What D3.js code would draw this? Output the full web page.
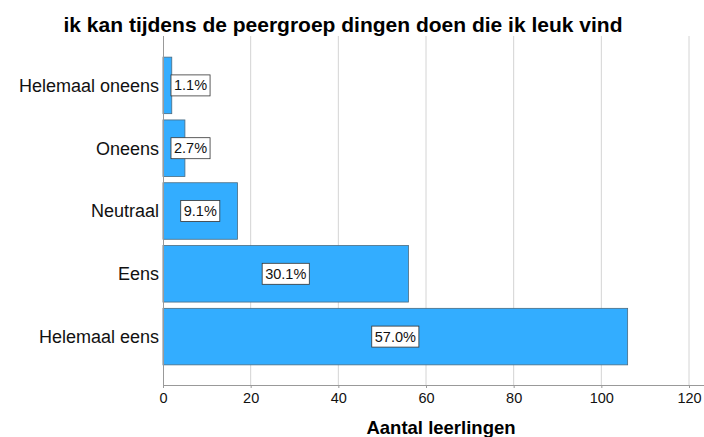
<!DOCTYPE html>
<html>
<head>
<meta charset="utf-8">
<script src="https://cdn.jsdelivr.net/npm/d3@7"></script>
<style>
  body { margin: 0; background: #fff; }
  text { font-family: "Liberation Sans", Arial, sans-serif; }
</style>
</head>
<body>
<div id="chart"></div>
<script>
const categories = ["Helemaal oneens", "Oneens", "Neutraal", "Eens", "Helemaal eens"];
const counts = [2, 5, 17, 56, 106];
const percentLabels = ["1.1%", "2.7%", "9.1%", "30.1%", "57.0%"];
const xTicks = [0, 20, 40, 60, 80, 100, 120];

const W = 704, H = 437;
const plot = { left: 163, right: 689, top: 36, bottom: 385 };

const svg = d3.select("#chart").append("svg")
    .attr("width", W)
    .attr("height", H);

const x = d3.scaleLinear().domain([0, 120]).range([plot.left, plot.right]);
const y = d3.scaleBand()
    .domain(categories)
    .range([54, 368])
    .paddingInner(0.1)
    .paddingOuter(0.05);

// grid lines
svg.append("g")
    .selectAll("line")
    .data(xTicks.filter(d => d > 0))
    .enter().append("line")
    .attr("x1", d => x(d)).attr("x2", d => x(d))
    .attr("y1", plot.top).attr("y2", plot.bottom)
    .attr("stroke", "#d4d4d4")
    .attr("stroke-width", 1);

// bars
const data = categories.map((c, i) => ({ cat: c, n: counts[i], label: percentLabels[i] }));

svg.selectAll(".bar")
    .data(data)
    .enter().append("rect")
    .attr("class", "bar")
    .attr("x", x(0))
    .attr("y", d => y(d.cat))
    .attr("width", d => x(d.n) - x(0))
    .attr("height", y.bandwidth())
    .attr("fill", "#33adff")
    .attr("stroke", "#4a6b80")
    .attr("stroke-width", 0.8);

// x axis
const xAxis = svg.append("g")
    .attr("transform", `translate(0,${plot.bottom})`)
    .call(d3.axisBottom(x).tickValues(xTicks).tickSize(3).tickPadding(5));
xAxis.select(".domain").remove();
xAxis.selectAll(".tick line").attr("stroke", "#999");
xAxis.selectAll("text")
    .attr("fill", "#111")
    .style("font-size", "14.5px");

svg.append("line")
    .attr("x1", plot.left).attr("x2", W)
    .attr("y1", plot.bottom + 0.5).attr("y2", plot.bottom + 0.5)
    .attr("stroke", "#999");
svg.append("line")
    .attr("x1", plot.left + 0.5).attr("x2", plot.left + 0.5)
    .attr("y1", plot.top).attr("y2", plot.bottom)
    .attr("stroke", "#999");

// category labels
svg.append("g")
    .selectAll("text")
    .data(categories)
    .enter().append("text")
    .attr("x", plot.left - 4)
    .attr("y", d => y(d) + y.bandwidth() / 2)
    .attr("dy", "0.35em")
    .attr("text-anchor", "end")
    .attr("fill", "#111")
    .style("font-size", "18px")
    .text(d => d);

// percentage labels in boxes
const lab = svg.append("g").selectAll("g")
    .data(data)
    .enter().append("g");

lab.each(function(d) {
    const g = d3.select(this);
    const t = g.append("text")
        .attr("text-anchor", "middle")
        .attr("dy", "0.35em")
        .attr("fill", "#111")
        .style("font-size", "14.5px")
        .text(d.label);
    const bw = t.node().getComputedTextLength() + 6;
    const cx = Math.max((x(0) + x(d.n)) / 2, plot.left + 8 + bw / 2);
    const cy = y(d.cat) + y.bandwidth() / 2;
    t.attr("x", cx).attr("y", cy);
    g.insert("rect", "text")
        .attr("x", cx - bw / 2)
        .attr("y", cy - 10.5)
        .attr("width", bw)
        .attr("height", 21)
        .attr("fill", "#fff")
        .attr("stroke", "#333")
        .attr("stroke-width", 0.8);
});

// title
svg.append("text")
    .attr("x", 343)
    .attr("y", 32)
    .attr("text-anchor", "middle")
    .attr("fill", "#000")
    .style("font-size", "21px")
    .style("font-weight", "bold")
    .text("ik kan tijdens de peergroep dingen doen die ik leuk vind");

// x axis title
svg.append("text")
    .attr("x", 441)
    .attr("y", 434)
    .attr("text-anchor", "middle")
    .attr("fill", "#000")
    .style("font-size", "18.5px")
    .style("font-weight", "bold")
    .text("Aantal leerlingen");
</script>
</body>
</html>
